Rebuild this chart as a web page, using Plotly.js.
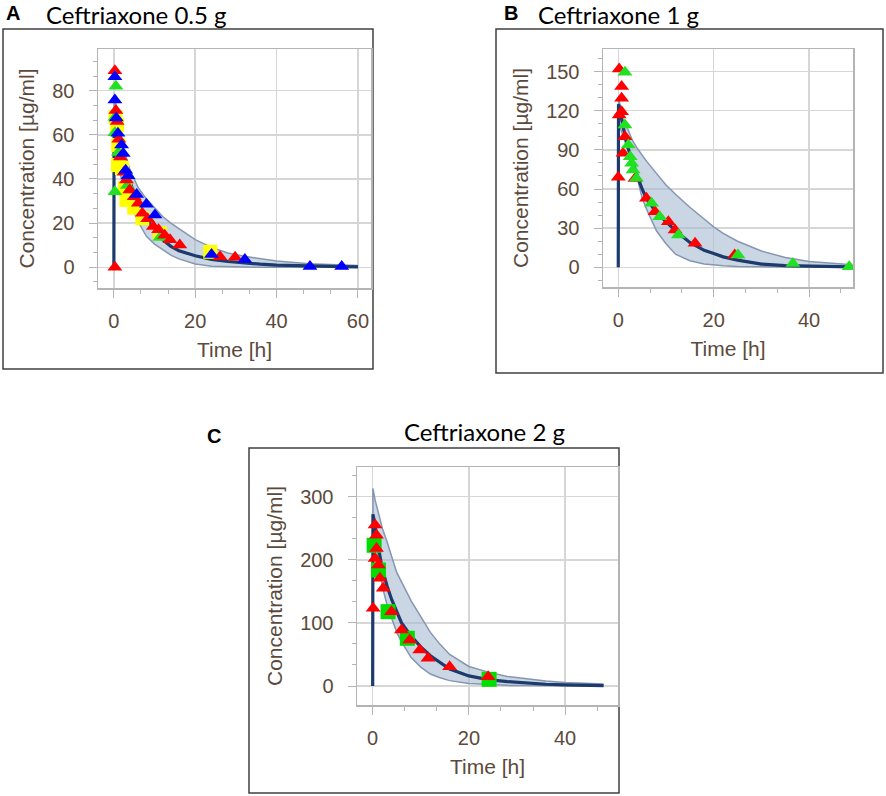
<!DOCTYPE html>
<html>
<head>
<meta charset="utf-8">
<script src="https://cdn.plot.ly/plotly-3.0.1.min.js"></script>
<style>html,body{margin:0;padding:0;background:#fff}#chart{width:886px;height:796px}</style>
</head>
<body>
<div id="chart"></div>
<script>
// ---------- Panel A: Ceftriaxone 0.5 g ----------
const timeA   = [0,0.05,0.5,1,2,3,4,5,6,8,10,12,14,16,20,24,28,32,36,40,48,56,60];
const medianA = [0,65,62,57,49,43,38,33,29,22,17,12.5,9.5,7.5,5.2,3.6,2.6,1.9,1.4,1.0,0.5,0.3,0.2];
const upperA  = [0,78,74,68,58,50,44,40,36,31,27,23,20,17.5,12.5,9,6.5,5,3.8,2.8,1.6,1,0.8];
const lowerA  = [0,55,52,47,39,33,29,25,20.5,14,10.5,8,5.5,3.8,1.5,0.5,0.2,0.1,0,0,0,0,0];
const yellowA_t = [0.4,0.8,1.06,1.0,2.0,2.7,3.1,5.0,7.0,11.3,23.7];
const yellowA_c = [68,64.4,55.4,46.3,45,35.8,30.5,27,22.2,15.4,7];
const greenA_t  = [0.5,0.3,0.25,0.25,1.1,3.3,11.3];
const greenA_c  = [82,68,61,34.2,52,37,13.5];
const redA_t    = [0.25,0.25,0.5,0.8,1.2,1.6,2.5,3.1,3.9,5.0,6.0,7.0,8.3,9.7,11.0,12.5,13.8,16.2,26.1,29.8];
const redA_c    = [0,89,71,66,58,50,43,39.5,35,32,29,24.5,22,18.5,17,14.5,12.5,10.1,4.8,4.5];
const blueA_t   = [0.25,0.25,0.6,1.0,1.9,2.3,2.9,3.5,5.6,8.0,10.1,24.0,32.2,48.2,56.0];
const blueA_c   = [86.3,75.8,67.6,60.7,55.4,51.6,44,41.5,33,28.6,23.7,5.8,3.5,0.3,0.3];

// ---------- Panel B: Ceftriaxone 1 g ----------
const timeB   = [0,0.05,0.5,1,2,3,4,5,6,8,10,12,15,18,20,22,25,30,35,40,45,49];
const medianB = [0,125,118,108,92,80,70,60,52,42,35,28,19,13,10.5,8,5.5,2.5,1.3,0.8,0.5,0.4];
const upperB  = [0,130,122,112,106,97,91,86,81,72,63,56,46,37,31,26,20,12.5,7.5,4.5,2.8,2];
const lowerB  = [0,110,106,100,90,80,68,53,44,28,18,10,5,2.5,1.7,1.2,0.7,0.3,0.1,0,0,0];
const redB_t   = [0.2,0.7,0.7,0.7,0.2,1.4,1.0,0.0,3.5,5.9,7.7,10.5,11.9,16.1,24.4];
const redB_c   = [152,138.5,129.6,119.3,116.8,100,87.4,69,68,52.9,42.6,35,28.6,18.4,9.4];
const greenB_t = [1.4,1.4,2.1,2.5,2.8,3.1,3.8,7.0,8.7,12.6,25.1,36.6,48.4];
const greenB_c = [149.5,109,93.8,84.8,79.7,74.6,68.2,49,38.8,24.8,9.4,3,0.5];

// ---------- Panel C: Ceftriaxone 2 g ----------
const timeC   = [0,0.05,0.5,1,2,3,4,5,6,8,10,12,14,16,20,24,28,32,36,40,44,48];
const medianC = [0,272,255,228,185,158,136,117,100,79,62,48,37,27,16,10,7,4.5,2.8,1.8,1.1,0.7];
const upperC  = [0,313,295,280,250,228,205,180,165,135,110,85,66,50,31,22,15,11,8,5.5,4,3];
const lowerC  = [0,250,232,205,158,128,105,85,70,45,30,19,13,8.5,4,2,1,0.6,0.4,0.2,0.1,0.1];
const greenC_t = [0.3,1.2,3.2,7.2,24.2];
const greenC_c = [223,183.8,117.8,75.6,10.6];
const redC_t   = [0.5,0.8,0.8,0.5,1.2,1.5,2.2,0.1,3.9,6.0,7.7,9.8,11.5,16.0,24.0];
const redC_c   = [255,239,218,202,191.8,170.7,154.8,123,117.8,88.7,72.9,57,43.9,30.6,14.7];

// ---------- Text ----------
const panelTitles = ['Ceftriaxone 0.5 g','Ceftriaxone 1 g','Ceftriaxone 2 g'];
const panelLetters = ['A','B','C'];
const xTitle = 'Time [h]';
const yTitle = 'Concentration [µg/ml]';

// ---------- Styling ----------
const W = 886, H = 796;
const px = v => v / W;
const py = v => 1 - v / H;
const FONT = 'Liberation Sans, Arial, sans-serif';
const TFONT = 'Lato, Liberation Sans, sans-serif';
const TXT = '#5b4a3b';
const GRID = '#d6d6d6';
const FRAME = '#b4b4b4';
const EDGE = '#8596b0';
const FILL = 'rgba(165,184,210,0.58)';
const MED = '#1c3a6c';
const RED = '#ff0000', BLUE = '#0000ff', GREEN = '#22e022', YELLOW = '#ffff00', GREENSQ = '#00dd00';
const TRI = 13, SQ = 15;

function band(t, lo, hi, med, xa, ya) {
  return [
    {x: t, y: lo, mode: 'lines', line: {color: EDGE, width: 1.5}, xaxis: xa, yaxis: ya, hoverinfo: 'skip'},
    {x: t, y: hi, mode: 'lines', line: {color: EDGE, width: 1.5}, fill: 'tonexty', fillcolor: FILL, xaxis: xa, yaxis: ya, hoverinfo: 'skip'},
    {x: t, y: med, mode: 'lines', line: {color: MED, width: 3.2}, xaxis: xa, yaxis: ya, hoverinfo: 'skip'}
  ];
}
function pts(t, c, color, symbol, size, xa, ya) {
  return {x: t, y: c, mode: 'markers', marker: {color: color, symbol: symbol, size: size, line: {width: 0}}, xaxis: xa, yaxis: ya};
}

const data = [].concat(
  band(timeA, lowerA, upperA, medianA, 'x', 'y'),
  [pts(yellowA_t, yellowA_c, YELLOW, 'square', SQ - 1, 'x', 'y'),
   pts(greenA_t, greenA_c, GREEN, 'triangle-up', TRI, 'x', 'y'),
   pts(redA_t, redA_c, RED, 'triangle-up', TRI, 'x', 'y'),
   pts(blueA_t, blueA_c, BLUE, 'triangle-up', TRI, 'x', 'y')],
  band(timeB, lowerB, upperB, medianB, 'x2', 'y2'),
  [pts(redB_t, redB_c, RED, 'triangle-up', TRI, 'x2', 'y2'),
   pts(greenB_t, greenB_c, GREEN, 'triangle-up', TRI, 'x2', 'y2')],
  band(timeC, lowerC, upperC, medianC, 'x3', 'y3'),
  [pts(greenC_t, greenC_c, GREENSQ, 'square', SQ, 'x3', 'y3'),
   pts(redC_t, redC_c, RED, 'triangle-up', TRI, 'x3', 'y3')]
);

function axisBase(dtick) {
  return {
    dtick: dtick, tick0: 0, showgrid: true, gridcolor: GRID, gridwidth: 1.5, zeroline: false,
    showline: true, mirror: true, linecolor: FRAME, linewidth: 1.5,
    ticks: 'outside', ticklen: 8, tickcolor: FRAME, tickwidth: 1,
    minor: {dtick: dtick / 3, ticks: 'outside', ticklen: 4, tickcolor: FRAME, tickwidth: 1, showgrid: false},
    tickfont: {family: FONT, size: 20, color: TXT},
    fixedrange: true, automargin: false
  };
}
function xAxis(d0, d1, range, anchor) {
  return Object.assign(axisBase(20), {domain: [px(d0), px(d1)], range: range, anchor: anchor,
    ticklabelstandoff: 6,
    title: {text: xTitle, font: {family: FONT, size: 21, color: TXT}, standoff: 12}});
}
function yAxis(top, bottom, range, dtick, anchor) {
  return Object.assign(axisBase(dtick), {domain: [py(bottom), py(top)], range: range, anchor: anchor,
    ticklabelstandoff: 10,
    title: {text: yTitle, font: {family: FONT, size: 21, color: TXT}, standoff: 12}});
}

function box(x0, y0, x1, y1) {
  return {type: 'rect', xref: 'paper', yref: 'paper', x0: px(x0), x1: px(x1), y0: py(y1), y1: py(y0),
          line: {color: '#404040', width: 1.5}, fillcolor: 'rgba(0,0,0,0)', layer: 'below'};
}
function label(text, x, y, bold, anchor, size) {
  return {text: bold ? '<b>' + text + '</b>' : text, xref: 'paper', yref: 'paper', x: px(x), y: py(y),
          xanchor: anchor, yanchor: 'middle', showarrow: false,
          font: {family: bold ? FONT : TFONT, size: size, color: '#000'}};
}

const layout = {
  width: W, height: H, margin: {l: 0, r: 0, t: 0, b: 0},
  paper_bgcolor: '#fff', plot_bgcolor: '#fff', showlegend: false, hovermode: false,
  xaxis:  xAxis(98, 371, [-3.9, 63.2], 'y'),
  yaxis:  yAxis(49, 288, [-9.4, 98.9], 20, 'x'),
  xaxis2: xAxis(603, 853, [-3.2, 49.2], 'y2'),
  yaxis2: yAxis(49, 287, [-15.1, 167.3], 30, 'x2'),
  xaxis3: xAxis(357, 618, [-3.26, 51], 'y3'),
  yaxis3: yAxis(467, 705, [-30.1, 347], 100, 'x3'),
  shapes: [box(3, 29, 373, 369), box(496, 29, 883, 373), box(249, 448, 619, 793)],
  annotations: [
    label(panelLetters[0], 4, 13, true, 'left', 20),
    label(panelTitles[0], 44, 14, false, 'left', 24),
    label(panelLetters[1], 502, 13, true, 'left', 20),
    label(panelTitles[1], 536, 14, false, 'left', 24),
    label(panelLetters[2], 205, 436, true, 'left', 20),
    label(panelTitles[2], 484, 431, false, 'center', 24)
  ]
};

Plotly.newPlot('chart', data, layout, {staticPlot: true, displayModeBar: false});
</script>
</body>
</html>
